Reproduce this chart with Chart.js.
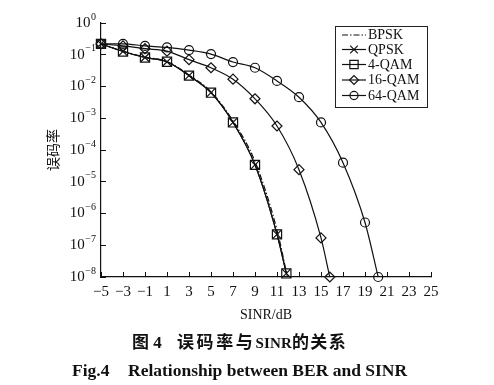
<!DOCTYPE html>
<html><head><meta charset="utf-8">
<script src="https://cdn.jsdelivr.net/npm/chart.js@4.4.0/dist/chart.umd.min.js"></script>
<style>
html,body{margin:0;padding:0;background:#fff;}
#wrap{position:relative;width:494px;height:385px;overflow:hidden;}
canvas{position:absolute;left:0;top:0;}
.cap{position:absolute;white-space:nowrap;color:#111;font-weight:bold;}
.cn{font-family:'Liberation Serif','Noto Sans CJK SC',serif;font-size:17px;line-height:18px;top:334px;}
.cn .h{letter-spacing:2.6px;}
.cn .k{letter-spacing:1.3px;}
.cn .l{font-size:15px;letter-spacing:0.2px;}
.en{font-family:'Liberation Serif',serif;font-size:17.5px;line-height:18px;top:361px;}
</style></head><body>
<div id="wrap">
<canvas id="c" width="494" height="385"></canvas>
<div class="cap cn" style="left:132px;">图 4</div>
<div class="cap cn" style="left:177px;"><span class="h">误码率与</span><span class="l">SINR</span><span class="k">的关系</span></div>
<div class="cap en" style="left:72px;">Fig.4</div>
<div class="cap en" style="left:128px;">Relationship between BER and SINR</div>
</div>
<script>
// ---- data ----
const xTicks = [-5,-3,-1,1,3,5,7,9,11,13,15,17,19,21,23,25];
const xTickLabels = ['−5','−3','−1','1','3','5','7','9','11','13','15','17','19','21','23','25'];
const yTickValues = [1,1e-1,1e-2,1e-3,1e-4,1e-5,1e-6,1e-7,1e-8];
const yTickExp = ['0','−1','−2','−3','−4','−5','−6','−7','−8'];

const xBPSK = [-5,-3,-1,1,3,5,7,9,11,11.95];
const yBPSK = [0.22,0.13,0.085,0.061,0.023,0.0068,8.2e-4,4.3e-5,3.0e-7,1e-8];
const xQPSK = [-5,-3,-1,1,3,5,7,9,11,11.85];
const yQPSK = [0.22,0.127,0.082,0.06,0.022,0.0064,7.4e-4,3.4e-5,2.2e-7,1.3e-8];
const x4QAM = [-5,-3,-1,1,3,5,7,9,11,11.85];
const y4QAM = [0.22,0.127,0.082,0.06,0.022,0.0064,7.4e-4,3.4e-5,2.2e-7,1.3e-8];
const x16QAM = [-5,-3,-1,1,3,5,7,9,11,13,15,15.8];
const y16QAM = [0.22,0.19,0.155,0.13,0.07,0.039,0.017,0.0041,5.7e-4,2.4e-5,1.7e-7,1e-8];
const x64QAM = [-5,-3,-1,1,3,5,7,9,11,13,15,17,19,20.2];
const y64QAM = [0.22,0.22,0.19,0.17,0.14,0.105,0.059,0.039,0.015,0.0046,7.4e-4,4e-5,5.2e-7,1e-8];
const seriesNames = ['BPSK','QPSK','4-QAM','16-QAM','64-QAM'];

const pts = (xs, ys) => xs.map((x,i)=>({x:x,y:ys[i]}));
const INK = '#111';
const base = {borderColor:INK, borderWidth:1.2, backgroundColor:'rgba(0,0,0,0)', pointBorderColor:INK,
  pointBackgroundColor:'rgba(0,0,0,0)', pointBorderWidth:1.2, cubicInterpolationMode:'monotone', clip:false, fill:false};

const datasets = [
  Object.assign({}, base, {label:seriesNames[0], data:pts(xBPSK,yBPSK), pointRadius:0, borderDash:[6,2,1.5,2]}),
  Object.assign({}, base, {label:seriesNames[1], data:pts(xQPSK,yQPSK), pointStyle:'crossRot', pointRadius:6}),
  Object.assign({}, base, {label:seriesNames[2], data:pts(x4QAM,y4QAM), pointStyle:'rect', pointRadius:6.5}),
  Object.assign({}, base, {label:seriesNames[3], data:pts(x16QAM,y16QAM), pointStyle:'rectRot', pointRadius:5}),
  Object.assign({}, base, {label:seriesNames[4], data:pts(x64QAM,y64QAM), pointStyle:'circle', pointRadius:4.5})
];

function marker(ctx, style, r, x, y){
  ctx.beginPath();
  if(style==='crossRot'){const d=r*Math.SQRT1_2;ctx.moveTo(x-d,y-d);ctx.lineTo(x+d,y+d);ctx.moveTo(x-d,y+d);ctx.lineTo(x+d,y-d);}
  else if(style==='rect'){const s=r*Math.SQRT1_2;ctx.rect(x-s,y-s,2*s,2*s);}
  else if(style==='rectRot'){ctx.moveTo(x-r,y);ctx.lineTo(x,y-r);ctx.lineTo(x+r,y);ctx.lineTo(x,y+r);ctx.closePath();}
  else if(style==='circle'){ctx.arc(x,y,r,0,Math.PI*2);}
  ctx.stroke();
}

const extras = {
  id:'extras',
  afterDraw(chart){
    const ctx = chart.ctx;
    const ys = chart.scales.y;
    ctx.save();
    ctx.fillStyle = INK;
    ctx.textBaseline = 'middle';
    ctx.textAlign = 'right';
    yTickValues.forEach((v,i)=>{
      const py = ys.getPixelForValue(v);
      ctx.font = '10px "Liberation Serif"';
      const ew = ctx.measureText(yTickExp[i]).width;
      ctx.fillText(yTickExp[i], 96, py-6);
      ctx.font = '15px "Liberation Serif"';
      ctx.fillText('10', 96-ew-0.5, py);
    });
    // legend
    const L=335.5, T=26.5, W=92, H=81;
    ctx.strokeStyle = '#222'; ctx.lineWidth = 1;
    ctx.strokeRect(L,T,W,H);
    const rowY = [35,49.5,64.5,80,95.5];
    ctx.textAlign='left';
    ctx.font = '14px "Liberation Serif"';
    chart.data.datasets.forEach((ds,i)=>{
      const y = rowY[i];
      ctx.strokeStyle = INK; ctx.lineWidth = 1.2;
      ctx.setLineDash(ds.borderDash || []);
      ctx.beginPath(); ctx.moveTo(342,y); ctx.lineTo(366,y); ctx.stroke();
      ctx.setLineDash([]);
      if(ds.pointRadius>0) marker(ctx, ds.pointStyle, ds.pointRadius*0.9, 354, y);
      ctx.fillText(ds.label, 368, y+0.5);
    });
    ctx.restore();
  }
};

new Chart(document.getElementById('c'), {
  type:'line',
  data:{datasets:datasets},
  plugins:[extras],
  options:{
    responsive:false, animation:false,
    layout:{padding:{left:0,right:63,top:23,bottom:61}},
    plugins:{legend:{display:false}, tooltip:{enabled:false}},
    scales:{
      x:{type:'linear', min:-5, max:25,
        afterBuildTicks:s=>{s.ticks = xTicks.map(v=>({value:v}));},
        afterFit:s=>{s.height=47;},
        grid:{drawOnChartArea:false, drawTicks:true, tickLength:-5, color:INK, lineWidth:1},
        border:{display:true, color:INK, width:1.2},
        ticks:{padding:11, color:INK, autoSkip:false, maxRotation:0, font:{family:'Liberation Serif', size:15},
          callback:(v,i)=>xTickLabels[i]},
        title:{display:true, text:'SINR/dB', color:INK, font:{family:'Liberation Serif', size:14}, padding:{top:0,bottom:0}}
      },
      y:{type:'logarithmic', min:1e-8, max:1,
        afterBuildTicks:s=>{s.ticks = yTickValues.map(v=>({value:v}));},
        afterFit:s=>{s.width=101;},
        grid:{drawOnChartArea:false, drawTicks:true, tickLength:-5, color:INK, lineWidth:1},
        border:{display:true, color:INK, width:1.2},
        ticks:{display:false},
        title:{display:true, text:'误码率', color:INK, font:{family:'Noto Sans CJK SC', size:14}, padding:{top:44,bottom:0}}
      }
    }
  }
});
</script>
</body></html>
